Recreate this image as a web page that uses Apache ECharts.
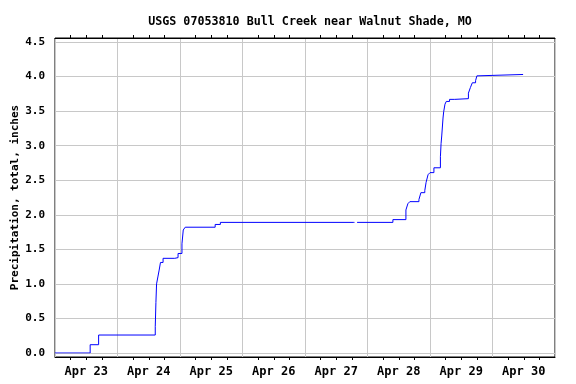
<!DOCTYPE html>
<html>
<head>
<meta charset="utf-8">
<script src="https://cdn.jsdelivr.net/npm/echarts@6/dist/echarts.min.js"></script>
<style>html,body{margin:0;padding:0;background:#fff}#c{width:576px;height:384px}</style>
</head>
<body>
<div id="c"></div>
<script>
const titleText = 'USGS 07053810 Bull Creek near Walnut Shade, MO';
const yAxisName = 'Precipitation, total, inches';
const dayLabels = ['Apr 23','Apr 24','Apr 25','Apr 26','Apr 27','Apr 28','Apr 29','Apr 30'];
const xStart = '2017-04-23 00:00';
const xEnd = '2017-05-01 00:00';
const yTicks = [0, 0.5, 1.0, 1.5, 2.0, 2.5, 3.0, 3.5, 4.0, 4.5];

const times = [
 '2017-04-23 00:00','2017-04-23 13:30','2017-04-23 16:45',
 '2017-04-24 14:30','2017-04-24 14:45','2017-04-24 15:00','2017-04-24 15:30','2017-04-24 16:00','2017-04-24 16:30','2017-04-24 17:30','2017-04-24 22:00','2017-04-24 23:15',
 '2017-04-25 00:45','2017-04-25 01:15','2017-04-25 02:00','2017-04-25 13:30','2017-04-25 15:30',
 '2017-04-27 18:30','2017-04-27 19:00','2017-04-27 20:00',
 '2017-04-28 09:45','2017-04-28 14:45','2017-04-28 15:30','2017-04-28 16:15','2017-04-28 19:45','2017-04-28 20:30','2017-04-28 22:00','2017-04-28 22:30','2017-04-28 23:15',
 '2017-04-29 00:00','2017-04-29 01:30','2017-04-29 04:00','2017-04-29 04:15','2017-04-29 04:30','2017-04-29 05:00','2017-04-29 05:15','2017-04-29 05:45','2017-04-29 06:15','2017-04-29 07:30','2017-04-29 09:30','2017-04-29 14:45','2017-04-29 15:30','2017-04-29 16:15','2017-04-29 17:30','2017-04-29 18:00','2017-04-29 18:45',
 '2017-04-30 11:45'
];
const values = [
 0.00, 0.12, 0.26,
 0.38, 0.73, 1.00, 1.10, 1.20, 1.31, 1.37, 1.38, 1.44,
 1.58, 1.78, 1.82, 1.86, 1.89,
 1.89, null, 1.89,
 1.93, 2.07, 2.16, 2.19, 2.22, 2.32, 2.35, 2.47, 2.58,
 2.61, 2.68, 2.84, 3.03, 3.14, 3.40, 3.49, 3.60, 3.64, 3.67, 3.68, 3.76, 3.84, 3.91, 3.94, 4.01, 4.03,
 4.03
];

// x is expressed in hours since xStart
const toMs = s => new Date(s.replace(' ', 'T') + ':00Z').getTime();
const t0 = toMs(xStart);
const toH = s => (toMs(s) - t0) / 3600000;
const hMax = toH(xEnd);
const labelPos = dayLabels.map((_, i) => i * 24 + 12);
const seriesData = times.map((t, i) => [toH(t), values[i]]);

const font = 'DejaVu Sans Mono';
const chart = echarts.init(document.getElementById('c'), null, {renderer: 'canvas'});
const frameX = (pos, showLabels) => ({
  type: 'value', gridIndex: 0, position: pos, min: 0, max: hMax, interval: 24,
  axisLine: {show: true, onZero: false, lineStyle: {color: '#000', width: 1}},
  axisTick: {show: false},
  minorTick: {show: true, splitNumber: 4, length: 3, lineStyle: {color: '#000', width: 1}},
  splitLine: {show: pos === 'bottom', lineStyle: {color: '#c8c8c8', width: 1}},
  minorSplitLine: {show: false},
  axisLabel: showLabels ? {
    show: true, customValues: labelPos, margin: 9,
    fontFamily: font, fontWeight: 'bold', fontSize: 12, color: '#000',
    formatter: v => dayLabels[Math.floor(v / 24)]
  } : {show: false}
});
chart.setOption({
  backgroundColor: '#fff',
  animation: false,
  title: {
    text: titleText, left: 305, top: 10.5, textAlign: 'center',
    textStyle: {fontFamily: font, fontWeight: 'bold', fontSize: 11.7, color: '#000'}
  },
  grid: [
    {left: 55, right: 21, top: 38, bottom: 27, show: true, borderColor: '#000', borderWidth: 1, backgroundColor: 'transparent', containLabel: false, outerBoundsMode: 'none'},
    {left: 55, right: 21, top: 42, bottom: 31, containLabel: false, outerBoundsMode: 'none'}
  ],
  xAxis: [
    frameX('bottom', true),
    frameX('top', false),
    {type: 'value', gridIndex: 1, min: 0, max: hMax, show: false}
  ],
  yAxis: [
    {type: 'value', gridIndex: 0, min: 0, max: 1, show: false},
    {
      type: 'value', gridIndex: 1, min: yTicks[0], max: yTicks[yTicks.length - 1], interval: 0.5,
      name: yAxisName, nameLocation: 'middle', nameGap: 34, nameMoveOverlap: false,
      nameTextStyle: {fontFamily: font, fontWeight: 'bold', fontSize: 11, color: '#000'},
      axisLine: {show: false}, axisTick: {show: false},
      splitLine: {show: true, lineStyle: {color: '#c8c8c8', width: 1}},
      axisLabel: {margin: 10, fontFamily: font, fontWeight: 'bold', fontSize: 11, color: '#000', formatter: v => v.toFixed(1)}
    }
  ],
  series: [{
    type: 'line', xAxisIndex: 2, yAxisIndex: 1, data: seriesData,
    step: 'end', showSymbol: false, connectNulls: false,
    lineStyle: {color: '#0000ff', width: 1}, itemStyle: {color: '#0000ff'}
  }]
});
</script>
</body>
</html>
